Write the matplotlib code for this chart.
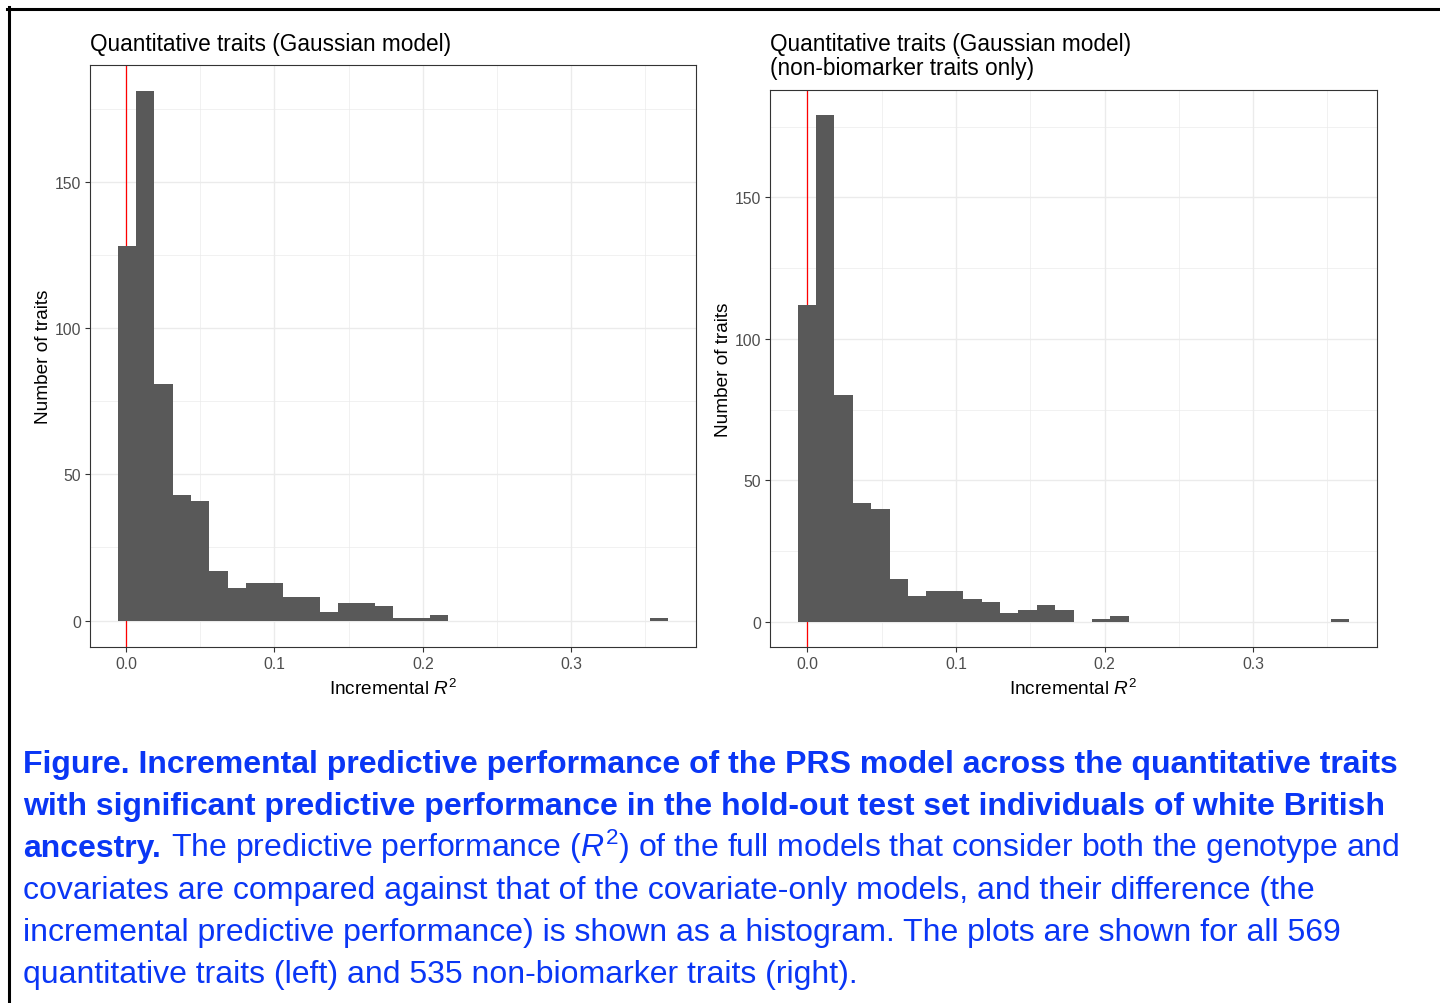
import numpy as np
import matplotlib
matplotlib.use("Agg")
import matplotlib.pyplot as plt
from matplotlib.lines import Line2D

plt.rcParams['font.family'] = ['Liberation Sans', 'DejaVu Sans']
plt.rcParams['mathtext.fontset'] = 'custom'
plt.rcParams['mathtext.rm'] = 'Liberation Sans'
plt.rcParams['mathtext.it'] = 'Liberation Sans:italic'
plt.rcParams['mathtext.bf'] = 'Liberation Sans:bold'

W, H = 1440, 1004

# histogram counts (30 bins each)
counts_all = [128, 181, 81, 43, 41, 17, 11, 13, 13, 8, 8, 3, 6, 6, 5, 1, 1, 2,
              0, 0, 0, 0, 0, 0, 0, 0, 0, 0, 0, 1]
counts_nonbio = [112, 179, 80, 42, 40, 15, 9, 11, 11, 8, 7, 3, 4, 6, 4, 0, 1, 2,
                 0, 0, 0, 0, 0, 0, 0, 0, 0, 0, 0, 1]
start_all, start_nonbio = -0.0058, -0.0066
binwidth = 0.01238

titles = [["Quantitative traits (Gaussian model)"],
          ["Quantitative traits (Gaussian model)", "(non-biomarker traits only)"]]
xticks = [0.0, 0.1, 0.2, 0.3]
xtick_labels = ["0.0", "0.1", "0.2", "0.3"]
yticks = [0, 50, 100, 150]

fig = plt.figure(figsize=(W / 100, H / 100), dpi=100)
fig.patch.set_facecolor('white')


def px_axes(x0, y0, x1, y1):
    return fig.add_axes([x0 / W, 1 - y1 / H, (x1 - x0) / W, (y1 - y0) / H])


def draw_hist(ax, counts, start):
    counts = np.array(counts)
    edges = start + binwidth * np.arange(len(counts) + 1)
    lo, hi = edges[0], edges[-1]
    pad = 0.05 * (hi - lo)
    ax.set_xlim(lo - pad, hi + pad)
    ypad = 0.05 * counts.max()
    ax.set_ylim(-ypad, counts.max() + ypad)

    ax.set_xticks(xticks)
    ax.set_xticklabels(xtick_labels)
    ax.set_yticks(yticks)
    ax.set_xticks([0.05, 0.15, 0.25, 0.35], minor=True)
    ax.set_yticks([25, 75, 125, 175], minor=True)
    ax.grid(which='major', color='#EBEBEB', lw=1.0)
    ax.grid(which='minor', color='#EBEBEB', lw=0.5)
    ax.set_axisbelow(True)
    ax.tick_params(which='major', length=3.5, width=0.8, color='#333333',
                   labelcolor='#4D4D4D', labelsize=11.3, pad=3)
    ax.tick_params(which='minor', length=0)
    for s in ax.spines.values():
        s.set_color('#333333')
        s.set_linewidth(0.8)

    # zero line sits underneath the bars
    ax.axvline(0, color='red', lw=0.9, zorder=1.5)
    ax.bar(edges[:-1], counts, width=binwidth, align='edge',
           color='#595959', edgecolor='none', zorder=2)
    ax.set_xlabel("Incremental $R^2$", fontsize=13.7, labelpad=5)
    ax.set_ylabel("Number of traits", fontsize=13.7, labelpad=2)


ax1 = px_axes(90, 66, 696, 648)
draw_hist(ax1, counts_all, start_all)
ax2 = px_axes(770, 91, 1377, 648)
draw_hist(ax2, counts_nonbio, start_nonbio)

fig.text(90 / W, 1 - 44 / H, titles[0][0], fontsize=16.3, va='center', ha='left')
fig.text(770 / W, 1 - 44 / H, titles[1][0], fontsize=16.3, va='center', ha='left')
fig.text(770 / W, 1 - 69 / H, titles[1][1], fontsize=16.3, va='center', ha='left')

# frame lines along top and left
fig.add_artist(Line2D([7 / W, 1], [1 - 9.5 / H, 1 - 9.5 / H], color='black',
                      lw=2.2, transform=fig.transFigure))
fig.add_artist(Line2D([8.5 / W, 8.5 / W], [1 - 8 / H, 0], color='black',
                      lw=2.2, transform=fig.transFigure))

# caption
blue = '#0A36F5'
cap_size = 23.0
renderer = fig.canvas.get_renderer()


def put_runs(y, runs, x=23):
    for txt, weight in runs:
        t = fig.text(x / W, 1 - y / H, txt, fontsize=cap_size, color=blue,
                     fontweight=weight, va='baseline', ha='left')
        x += t.get_window_extent(renderer).width
        x += 10


caption = [
    [("Figure. Incremental predictive performance of the PRS model across the quantitative traits", 'bold')],
    [("with significant predictive performance in the hold-out test set individuals of white British", 'bold')],
    [("ancestry.", 'bold'),
     ("The predictive performance ($R^2$) of the full models that consider both the genotype and", 'normal')],
    [("covariates are compared against that of the covariate-only models, and their difference (the", 'normal')],
    [("incremental predictive performance) is shown as a histogram. The plots are shown for all 569", 'normal')],
    [("quantitative traits (left) and 535 non-biomarker traits (right).", 'normal')],
]
for i, runs in enumerate(caption):
    put_runs(773 + 42 * i, runs)

fig.savefig("out.png", dpi=100, facecolor='white')
